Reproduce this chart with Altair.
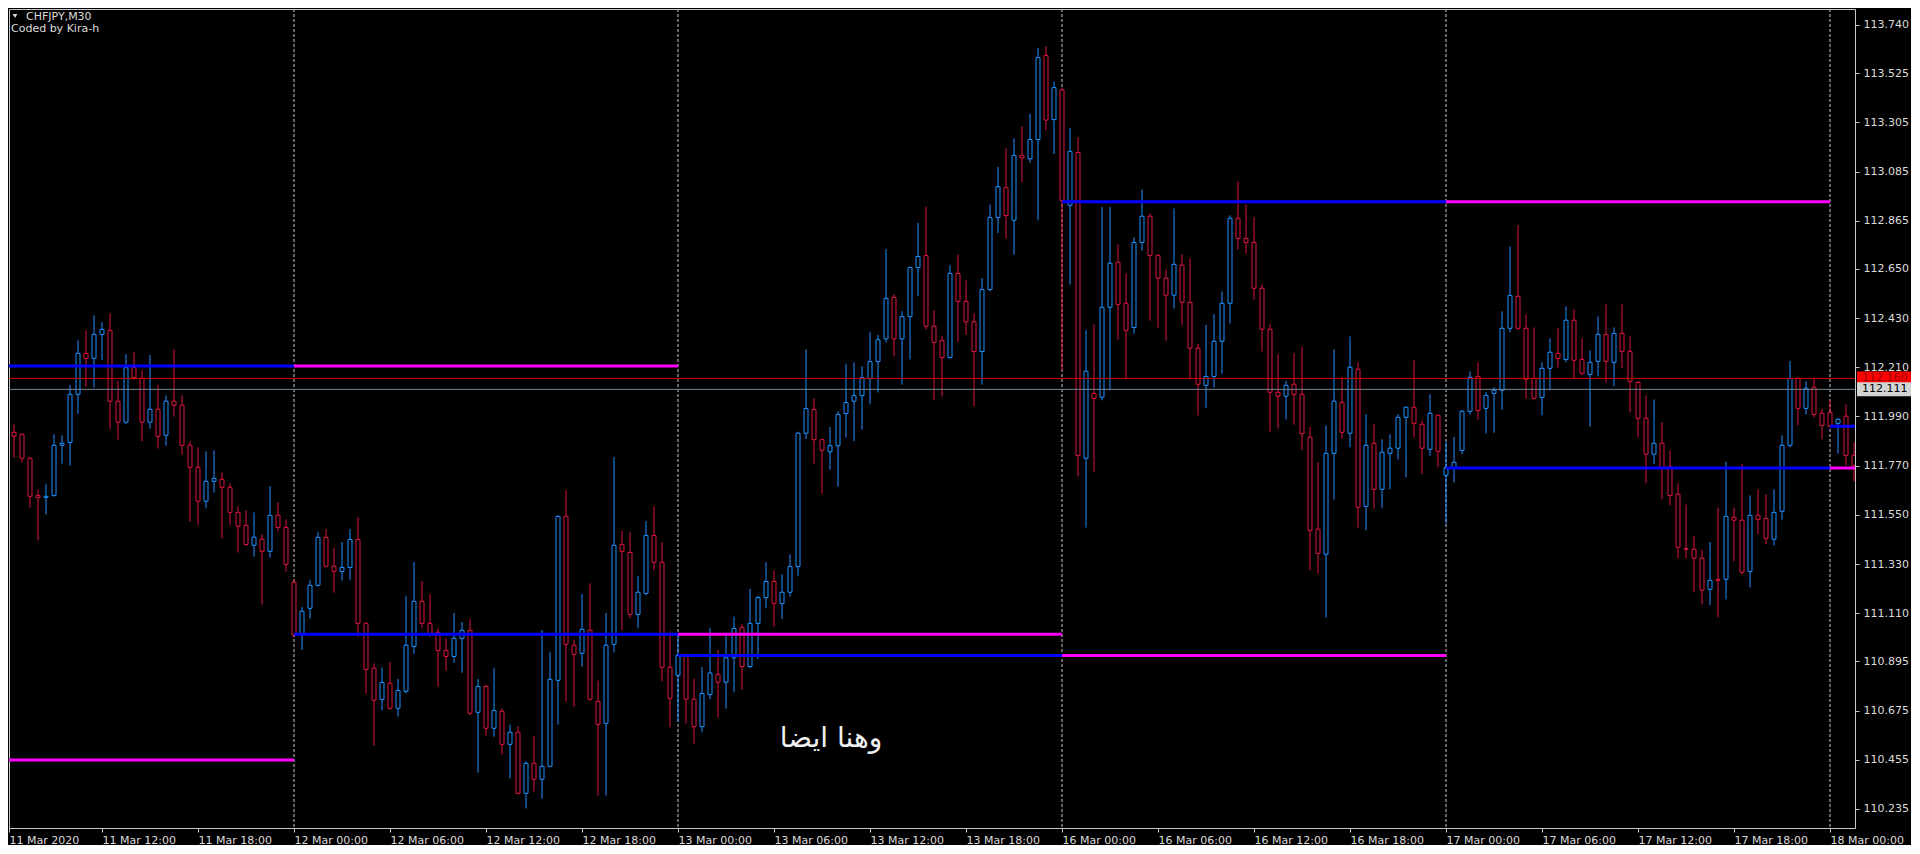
import altair as alt
import pandas as pd

# ---------------- data (CHFJPY M30, bar index 0 = 11 Mar 06:00) ----------------
OPEN = [
    111.946,111.919,111.910,111.803,111.637,111.628,111.637,111.861,111.874,112.089,112.272,112.250,
    112.357,112.375,112.058,111.964,112.208,112.160,111.964,112.022,111.906,112.058,112.040,111.861,
    111.762,111.611,111.700,111.709,111.673,111.561,111.503,111.414,111.441,111.387,111.548,111.494,
    111.248,111.014,111.132,111.235,111.449,111.320,111.297,111.315,111.440,111.065,110.864,110.725,
    110.797,110.685,110.761,110.962,111.163,111.065,111.025,110.944,110.917,110.998,111.034,110.667,
    110.783,110.596,110.672,110.524,110.578,110.305,110.439,110.368,110.426,110.810,111.543,110.967,
    110.931,111.034,110.716,110.618,110.971,111.418,111.382,111.105,111.199,111.458,111.338,110.868,
    110.833,110.921,110.726,110.603,110.747,110.837,110.802,110.911,111.046,110.872,111.065,111.180,
    111.252,111.153,111.204,111.319,111.915,112.021,111.886,111.832,111.859,112.003,112.058,112.083,
    112.159,112.235,112.337,112.522,112.337,112.436,112.656,112.709,112.393,112.329,112.253,112.629,
    112.504,112.413,112.280,112.557,112.879,113.013,112.867,113.157,113.142,113.228,113.604,113.317,
    113.450,112.934,113.170,111.803,112.093,112.076,112.478,112.679,112.496,112.388,112.768,112.885,
    112.710,112.608,112.532,112.666,112.500,112.295,112.129,112.169,112.326,112.496,112.876,112.786,
    112.768,112.563,112.380,112.098,112.080,112.134,112.089,111.897,111.486,111.374,111.825,112.053,
    111.915,112.201,111.588,111.870,111.664,111.825,111.848,111.986,112.031,111.955,111.843,111.995,
    111.727,111.760,111.838,112.013,112.169,112.026,112.093,112.107,112.384,112.527,112.384,112.160,
    112.075,112.205,112.272,112.245,112.420,112.245,112.178,112.236,112.357,112.232,112.361,112.281,
    112.142,111.982,111.821,111.870,111.767,111.642,111.400,111.396,111.356,111.217,111.262,111.262,
    111.539,111.526,111.297,111.548,111.534,111.441,111.566,111.861,112.160,112.026,112.120,112.004,
    112.008,111.959,111.991,111.816,
]
HIGH = [
    112.037,111.955,111.914,111.809,111.664,111.688,111.910,111.906,112.131,112.330,112.375,112.442,
    112.411,112.451,112.148,112.268,112.277,112.196,112.265,112.131,112.084,112.290,112.084,111.879,
    111.852,111.834,111.838,111.740,111.691,111.588,111.570,111.561,111.463,111.678,111.606,111.530,
    111.262,111.138,111.259,111.473,111.487,111.402,111.429,111.487,111.540,111.070,110.886,110.868,
    110.892,110.816,111.187,111.339,111.254,111.196,111.043,110.998,111.111,111.071,111.084,110.816,
    110.790,110.864,110.685,110.613,110.605,110.448,110.561,111.035,110.937,111.548,111.661,110.993,
    111.196,111.244,110.809,111.111,111.808,111.478,111.473,111.277,111.522,111.589,111.427,111.029,
    111.016,110.930,110.818,110.870,111.044,110.946,111.007,111.095,111.061,111.219,111.188,111.338,
    111.301,111.284,111.373,111.922,112.290,112.071,111.890,111.943,112.013,112.225,112.231,112.214,
    112.366,112.354,112.738,112.537,112.461,112.660,112.855,112.927,112.465,112.348,112.666,112.713,
    112.598,112.452,112.608,112.937,113.105,113.189,113.233,113.286,113.343,113.637,113.645,113.487,
    113.460,113.279,113.239,112.375,112.402,112.926,112.926,112.759,112.630,112.791,113.005,112.898,
    112.715,112.648,112.920,112.715,112.697,112.314,112.399,112.447,112.549,112.889,113.041,112.938,
    112.882,112.581,112.402,112.268,112.149,112.274,112.301,111.943,111.785,111.950,112.290,112.165,
    112.348,112.232,112.000,111.955,111.888,111.910,112.000,112.035,112.241,111.973,112.089,112.000,
    111.874,111.898,112.018,112.192,112.232,112.098,112.120,112.460,112.750,112.846,112.446,112.388,
    112.232,112.339,112.384,112.482,112.469,112.339,112.285,112.437,112.491,112.388,112.491,112.348,
    112.147,112.084,112.066,111.964,111.838,111.691,111.596,111.456,111.394,111.429,111.582,111.788,
    111.582,111.776,111.637,111.664,111.642,111.664,111.906,112.238,112.165,112.147,112.160,112.022,
    112.066,111.982,112.044,111.874,
]
LOW = [
    111.895,111.806,111.783,111.582,111.436,111.551,111.630,111.779,111.770,112.002,112.123,112.119,
    112.241,111.935,111.886,111.955,112.154,111.880,111.935,111.846,111.859,111.989,111.819,111.520,
    111.506,111.579,111.649,111.444,111.506,111.381,111.412,111.363,111.149,111.359,111.476,111.296,
    111.001,110.946,111.086,111.230,111.315,111.202,111.256,111.260,111.005,110.751,110.518,110.676,
    110.680,110.648,110.752,110.929,111.046,111.005,110.782,110.853,110.889,110.844,110.654,110.397,
    110.563,110.558,110.478,110.371,110.300,110.237,110.313,110.281,110.421,110.612,110.715,110.692,
    110.871,110.720,110.295,110.295,110.935,111.034,111.087,111.043,111.190,111.302,110.806,110.600,
    110.627,110.617,110.527,110.578,110.726,110.644,110.683,110.757,110.769,110.865,110.905,111.134,
    111.050,111.085,111.184,111.278,111.890,111.779,111.644,111.752,111.676,111.896,111.880,111.931,
    112.044,112.097,112.321,112.259,112.132,112.245,112.528,112.379,112.064,112.079,112.249,112.323,
    112.354,112.036,112.132,112.550,112.810,112.785,112.713,113.036,113.124,112.867,113.270,113.163,
    112.193,112.580,111.722,111.493,111.743,112.062,112.107,112.333,112.155,112.360,112.731,112.418,
    112.387,112.329,112.472,112.400,112.155,111.994,112.029,112.119,112.181,112.405,112.736,112.718,
    112.512,112.280,111.922,111.936,111.976,111.953,111.839,111.301,111.287,111.091,111.618,111.892,
    111.852,111.493,111.480,111.578,111.582,111.664,111.798,111.718,111.897,111.731,111.815,111.763,
    111.511,111.694,111.821,111.999,111.976,111.914,111.917,112.020,112.366,112.375,112.069,112.066,
    111.995,112.107,112.209,112.232,112.160,112.174,111.944,112.169,112.142,112.125,112.205,112.008,
    111.897,111.691,111.776,111.619,111.593,111.356,111.356,111.204,111.150,111.146,111.092,111.172,
    111.342,111.284,111.226,111.463,111.418,111.414,111.529,111.852,111.950,111.999,111.986,111.888,
    111.940,111.824,111.771,111.700,
]
CLOSE = [
    111.914,111.901,111.803,111.633,111.628,111.633,111.861,111.870,112.089,112.272,112.250,112.357,
    112.379,112.058,111.964,112.208,112.163,111.964,112.022,111.901,112.058,112.040,111.861,111.762,
    111.611,111.700,111.713,111.673,111.561,111.499,111.417,111.450,111.387,111.548,111.494,111.329,
    111.014,111.119,111.235,111.449,111.320,111.297,111.315,111.440,111.065,110.859,110.721,110.801,
    110.685,110.765,110.967,111.163,111.065,111.016,110.944,110.917,110.998,111.034,110.663,110.783,
    110.596,110.676,110.524,110.578,110.305,110.439,110.368,110.426,110.815,111.543,110.971,110.926,
    111.038,110.725,110.613,110.967,111.414,111.387,111.105,111.204,111.458,111.338,110.868,110.730,
    110.922,110.726,110.603,110.751,110.843,110.802,110.911,111.042,110.872,111.065,111.180,111.252,
    111.153,111.204,111.319,111.915,112.025,111.886,111.839,111.859,111.999,112.052,112.083,112.163,
    112.235,112.333,112.518,112.337,112.436,112.656,112.705,112.393,112.321,112.253,112.629,112.504,
    112.413,112.280,112.557,112.879,113.017,112.888,113.157,113.146,113.228,113.594,113.315,113.460,
    112.956,113.175,111.816,112.192,112.071,112.478,112.675,112.491,112.375,112.768,112.885,112.710,
    112.608,112.532,112.670,112.500,112.295,112.134,112.169,112.326,112.496,112.876,112.786,112.768,
    112.563,112.380,112.098,112.080,112.129,112.089,111.913,111.481,111.378,111.825,112.058,111.919,
    112.210,111.584,111.861,111.664,111.830,111.848,111.986,112.031,111.959,111.848,112.004,111.834,
    111.760,111.785,112.013,112.165,112.017,112.084,112.107,112.384,112.531,112.384,112.156,112.071,
    112.205,112.277,112.250,112.420,112.241,112.183,112.232,112.357,112.236,112.361,112.281,112.147,
    111.982,111.821,111.870,111.762,111.637,111.405,111.396,111.356,111.213,111.257,111.257,111.543,
    111.526,111.293,111.548,111.530,111.445,111.561,111.861,112.160,112.026,112.116,111.999,111.950,
    111.946,111.977,111.816,111.770,
]

# day boundaries (bar index) and per-day indicator levels
DAY_START = [-1, 36, 84, 132, 180, 228]
DAY_END = [36, 84, 132, 180, 228, 233]
BLUE_LEVEL = [112.215, 111.016, 110.921, 112.950, 111.760, 111.946]
MAGENTA_LEVEL = [110.454, 112.215, 111.016, 110.921, 112.950, 111.760]
SEPARATORS = [36, 84, 132, 180, 228]

ASK = [112.160]
BID = [112.111]

X_MIN, X_MAX = 0.375, 231.125
X_TICKS = [X_MIN] + list(range(12, 229, 12))
X_LABELS = ["11 Mar 2020", "11 Mar 12:00", "11 Mar 18:00", "12 Mar 00:00", "12 Mar 06:00",
            "12 Mar 12:00", "12 Mar 18:00", "13 Mar 00:00", "13 Mar 06:00", "13 Mar 12:00",
            "13 Mar 18:00", "16 Mar 00:00", "16 Mar 06:00", "16 Mar 12:00", "16 Mar 18:00",
            "17 Mar 00:00", "17 Mar 06:00", "17 Mar 12:00", "17 Mar 18:00", "18 Mar 00:00"]
Y_TICKS = [113.740, 113.525, 113.305, 113.085, 112.865, 112.650, 112.430, 112.210, 111.990,
           111.770, 111.550, 111.330, 111.110, 110.895, 110.675, 110.455, 110.235]

FONT = "DejaVu Sans"
LABEL_COLOR = "#dcdcdc"

# ---------------- tables ----------------
bars = pd.DataFrame({"i": list(range(len(OPEN))), "open": OPEN, "high": HIGH,
                     "low": LOW, "close": CLOSE})
bars["high"] = bars[["high", "open", "close"]].max(axis=1)
bars["low"] = bars[["low", "open", "close"]].min(axis=1)
bars["dir"] = ["up" if c >= o else "down" for o, c in zip(OPEN, CLOSE)]

days = pd.DataFrame({"start": DAY_START, "end": DAY_END, "blue": BLUE_LEVEL,
                     "magenta": MAGENTA_LEVEL})
seps = pd.DataFrame({"i": SEPARATORS})
ask_df = pd.DataFrame({"price": ASK, "label": [f"{v:.3f}" for v in ASK]})
bid_df = pd.DataFrame({"price": BID, "label": [f"{v:.3f}" for v in BID]})

xs = alt.Scale(domain=[X_MIN, X_MAX], nice=False, zero=False, padding=0)
ys = alt.Scale(domain=[110.150, 113.8115], nice=False, zero=False, padding=0)
cs = alt.Scale(domain=["up", "down"], range=["#1e90ff", "#dc143c"])

label_expr = "[" + ",".join(f"'{t}'" for t in X_LABELS) + "][round(datum.value/12)]"

X_AXIS = alt.Axis(values=X_TICKS, labelExpr=label_expr, title=None, orient="bottom",
                  labelAlign="left", labelPadding=2, labelFlush=False, labelOverlap=False,
                  labelBound=False, tickSize=4, tickColor="#c8c8c8", domain=False, grid=False,
                  labelColor=LABEL_COLOR, labelFont=FONT, labelFontSize=11)
Y_AXIS = alt.Axis(values=Y_TICKS, format=".3f", title=None, orient="right", tickSize=4,
                  tickColor="#c8c8c8", labelPadding=4, domain=False, grid=False,
                  labelColor=LABEL_COLOR, labelFont=FONT, labelFontSize=11, labelOverlap=False,
                  labelFlush=False)


def X(field):
    return alt.X(field, scale=xs, axis=X_AXIS)


def Y(field):
    return alt.Y(field, scale=ys, axis=Y_AXIS)


sep_layer = alt.Chart(seps).mark_rule(strokeDash=[3, 2], color="#c8c8c8", strokeWidth=1).encode(
    x=X("i:Q"))

wicks = alt.Chart(bars).mark_rule(strokeWidth=1, clip=True).encode(
    x=X("i:Q"), y=Y("low:Q"), y2="high:Q",
    color=alt.Color("dir:N", scale=cs, legend=None))

bodies = alt.Chart(bars).mark_bar(size=4, fill="black", strokeWidth=1, clip=True).encode(
    x=X("i:Q"), y=Y("open:Q"), y2="close:Q",
    stroke=alt.Stroke("dir:N", scale=cs, legend=None))

mag_lines = alt.Chart(days).mark_rule(strokeWidth=3, color="#ff00ff", clip=True).encode(
    x=X("start:Q"), x2="end:Q", y=Y("magenta:Q"))

blue_lines = alt.Chart(days).mark_rule(strokeWidth=3, color="#0000ff", clip=True).encode(
    x=X("start:Q"), x2="end:Q", y=Y("blue:Q"))

ask_line = alt.Chart(ask_df).mark_rule(strokeWidth=1, color="#d40000").encode(y=Y("price:Q"))
bid_line = alt.Chart(bid_df).mark_rule(strokeWidth=1, color="#778899").encode(y=Y("price:Q"))

ask_box = alt.Chart(ask_df).mark_rect(yOffset=-7, y2Offset=7, color="#ff0000").encode(
    y=Y("price:Q"), y2="price:Q", x=alt.value(1848), x2=alt.value(1902))
bid_box = alt.Chart(bid_df).mark_rect(yOffset=-7, y2Offset=7, color="#d3d3d3").encode(
    y=Y("price:Q"), y2="price:Q", x=alt.value(1848), x2=alt.value(1902))

ask_text = alt.Chart(ask_df).mark_text(align="left", baseline="middle", font=FONT,
                                       fontSize=11, color="#9a0000").encode(
    y=Y("price:Q"), x=alt.value(1853), text="label:N")
bid_text = alt.Chart(bid_df).mark_text(align="left", baseline="middle", font=FONT,
                                       fontSize=11, color="#000000").encode(
    y=Y("price:Q"), x=alt.value(1853), text="label:N")

title1 = alt.Chart(pd.DataFrame({"t": ["CHFJPY,M30"]})).mark_text(
    align="left", baseline="middle", font=FONT, fontSize=11, color=LABEL_COLOR).encode(
    x=alt.value(17), y=alt.value(8), text="t:N")
title2 = alt.Chart(pd.DataFrame({"t": ["Coded by Kira-h"]})).mark_text(
    align="left", baseline="middle", font=FONT, fontSize=11, color=LABEL_COLOR).encode(
    x=alt.value(2), y=alt.value(20), text="t:N")
tri = alt.Chart(pd.DataFrame({"t": ["v"]})).mark_point(
    shape="triangle-down", filled=True, color=LABEL_COLOR, size=22, opacity=1).encode(
    x=alt.value(6), y=alt.value(7))
arabic = alt.Chart(pd.DataFrame({"t": ["وهنا ايضا"]})).mark_text(
    align="center", baseline="middle", font=FONT, fontSize=28, color="#f0f0f0").encode(
    x=alt.value(822), y=alt.value(730), text="t:N")

chart = alt.layer(
    sep_layer, wicks, bodies, mag_lines, blue_lines, ask_line, bid_line,
    ask_box, bid_box, ask_text, bid_text, title1, title2, tri, arabic
).properties(
    width=1846, height=819, background="black",
    padding={"left": 0, "top": 0, "right": 0, "bottom": 0}
).configure_view(stroke="#c8c8c8", strokeWidth=1)

chart.save("out.html", embed_options={"renderer": "svg", "actions": False})
